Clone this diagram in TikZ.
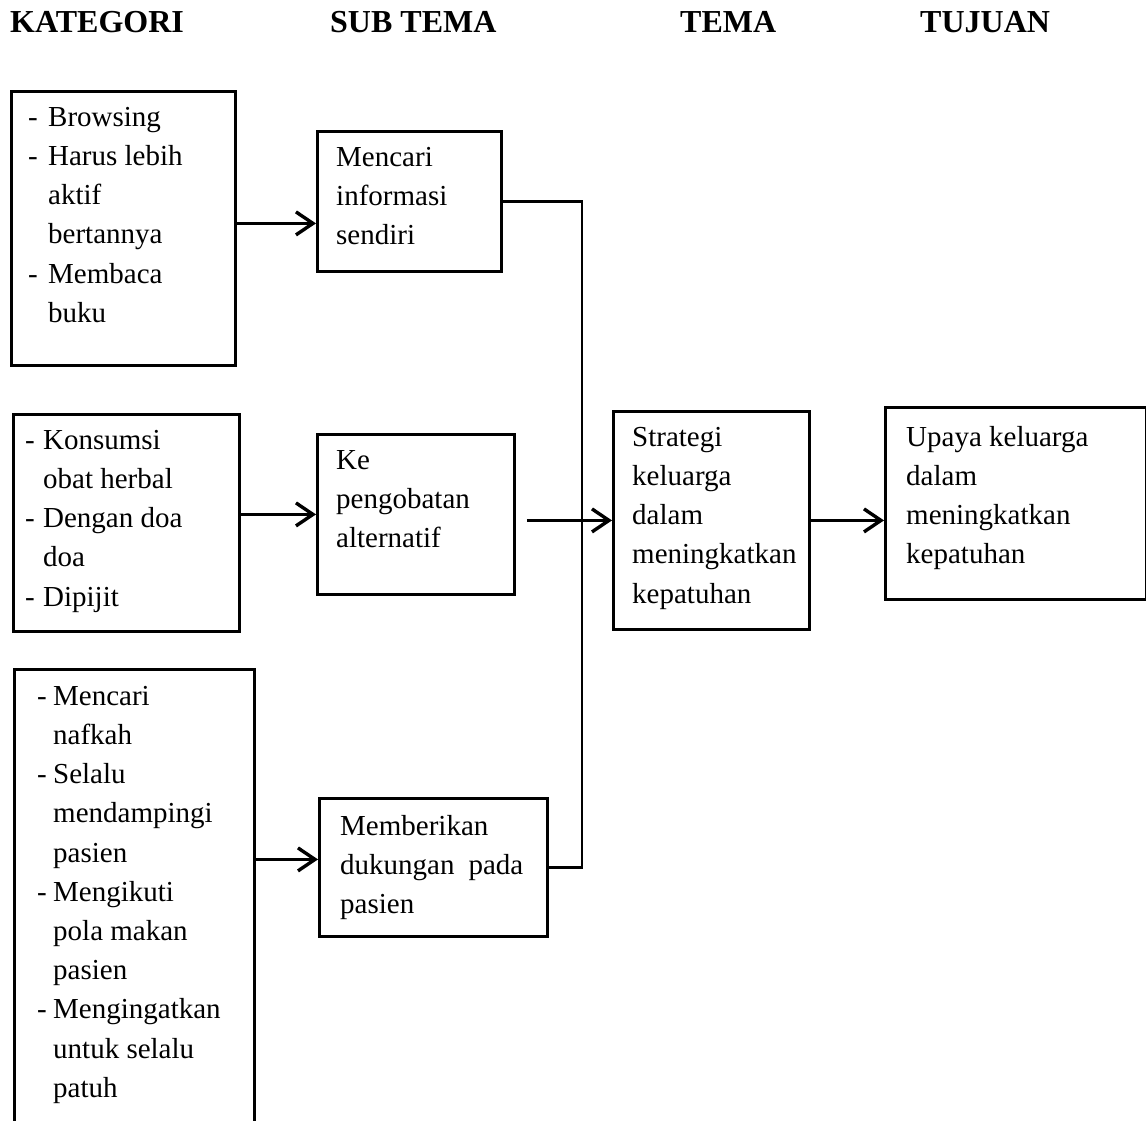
\documentclass[tikz,border=0pt]{standalone}
\usepackage{fontspec}
\setmainfont{Liberation Serif}
\usetikzlibrary{arrows.meta}

% list marker and continuation indent for the category boxes
\newcommand\dsh[1]{\makebox[#1pt][l]{-}}
\newcommand\ind[1]{\hspace*{#1pt}}

\begin{document}
\begin{tikzpicture}[x=1pt, y=-1pt,
  box/.style={draw, line width=2.8pt, anchor=north west, inner sep=0pt},
  txt/.style={anchor=north west, inner sep=0pt, align=left,
              font=\fontsize{29}{39.2}\selectfont},
  head/.style={anchor=base west, inner sep=0pt,
               font=\fontsize{32}{36}\selectfont\bfseries},
  link/.style={line width=2.6pt},
  arr/.style={line width=2.6pt,
              -{Straight Barb[length=17pt,width=23pt,line width=3.4pt]}}]

\clip (0,0) rectangle (1146,1120);

% column headings
\node[head] (h1) at (10,32)  {KATEGORI};
\node[head] (h2) at (330,32) {SUB TEMA};
\node[head] (h3) at (680,32) {TEMA};
\node[head] (h4) at (920,32) {TUJUAN};

% category boxes
\node[box, minimum width=224pt, minimum height=274pt] (k1) at (10,90) {};
\node[txt] (k1t) at (28,98.7) {\strut\dsh{20}Browsing\\
  \strut\dsh{20}Harus lebih\\
  \strut\ind{20}aktif\\
  \strut\ind{20}bertannya\\
  \strut\dsh{20}Membaca\\
  \strut\ind{20}buku};

\node[box, minimum width=226pt, minimum height=217pt] (k2) at (12,413) {};
\node[txt] (k2t) at (25,421.7) {\strut\dsh{18}Konsumsi\\
  \strut\ind{18}obat herbal\\
  \strut\dsh{18}Dengan doa\\
  \strut\ind{18}doa\\
  \strut\dsh{18}Dipijit};

\node[box, minimum width=240pt, minimum height=480pt] (k3) at (13,668) {};
\node[txt] (k3t) at (37,677.7) {\strut\dsh{16}Mencari\\
  \strut\ind{16}nafkah\\
  \strut\dsh{16}Selalu\\
  \strut\ind{16}mendampingi\\
  \strut\ind{16}pasien\\
  \strut\dsh{16}Mengikuti\\
  \strut\ind{16}pola makan\\
  \strut\ind{16}pasien\\
  \strut\dsh{16}Mengingatkan\\
  \strut\ind{16}untuk selalu\\
  \strut\ind{16}patuh};

% sub-theme boxes
\node[box, minimum width=184pt, minimum height=140pt] (s1) at (316,130) {};
\node[txt] (s1t) at (336,138.7) {\strut Mencari\\ \strut informasi\\ \strut sendiri};

\node[box, minimum width=197pt, minimum height=160pt] (s2) at (316,433) {};
\node[txt] (s2t) at (336,441.7) {\strut Ke\\ \strut pengobatan\\ \strut alternatif};

\node[box, minimum width=228pt, minimum height=138pt] (s3) at (318,797) {};
\node[txt] (s3t) at (340,807.7) {\strut Memberikan\\ \strut dukungan\hspace{14pt}pada\\ \strut pasien};

% theme and goal boxes
\node[box, minimum width=196pt, minimum height=218pt] (t) at (612,410) {};
\node[txt] (tt) at (632,418.7) {\strut Strategi\\ \strut keluarga\\ \strut dalam\\
  \strut meningkatkan\\ \strut kepatuhan};

\node[box, minimum width=261pt, minimum height=192pt] (u) at (884,406) {};
\node[txt] (ut) at (906,418.7) {\strut Upaya keluarga\\ \strut dalam\\
  \strut meningkatkan\\ \strut kepatuhan};

% connectors
\coordinate (bus) at (582,0);
\draw[arr] ([yshift=5pt]k1.east) -- ([yshift=5pt]k1.east -| s1.west);
\draw[arr] (k2.east |- s2.west) -- (s2.west);
\draw[arr] ([yshift=8pt]k3.east |- s3.west) -- ([yshift=8pt]s3.west);
\draw[link] (s1.east) -| (bus |- s3.east) -- (s3.east);
\draw[arr] ([xshift=11pt]s2.east |- t.west) -- (t.west);
\draw[arr] (t.east) -- (t.east -| u.west);

\end{tikzpicture}
\end{document}
